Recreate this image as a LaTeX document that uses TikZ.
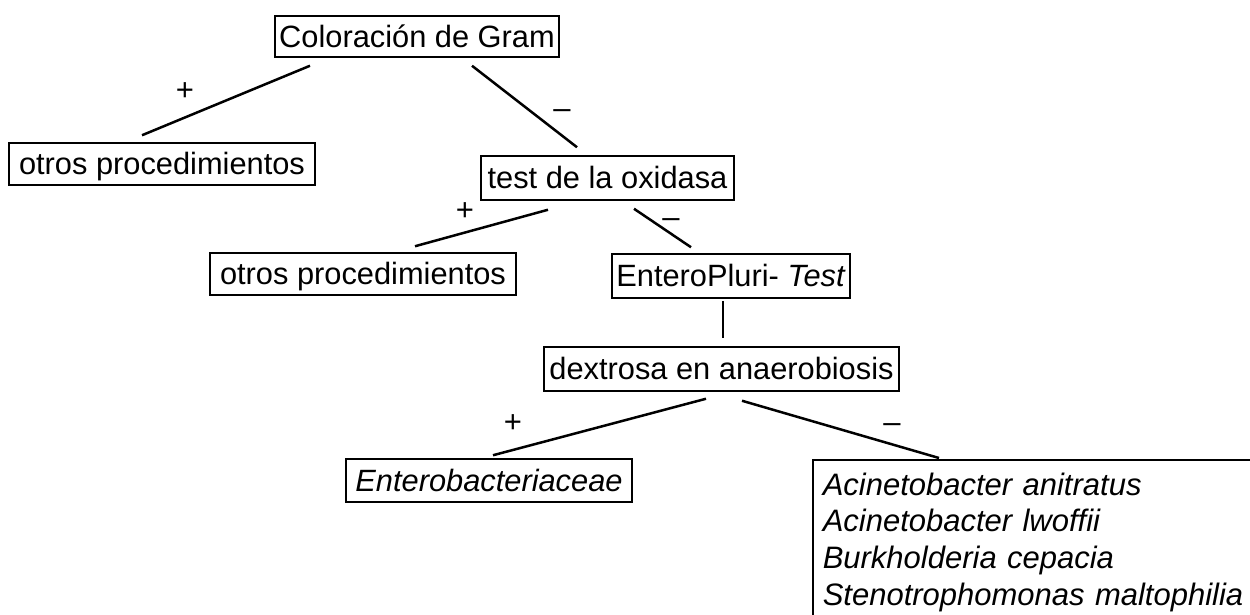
\documentclass[tikz,border=0pt]{standalone}
\usepackage{fontspec}
\setmainfont{Liberation Sans}
\begin{document}
\begin{tikzpicture}[x=1pt,y=-1pt,
  box/.style={draw=black, line width=1.5pt, inner xsep=0pt, inner ysep=0pt,
    minimum height=42pt, text height=26pt, text depth=4.2pt,
    font=\fontsize{30.8}{36}\selectfont},
  bigbox/.style={draw=black, line width=1.5pt, anchor=north west, align=left,
    inner xsep=10pt, inner ysep=13pt, text depth=190pt, text width=500pt,
    font=\fontsize{31}{36.7}\selectfont\itshape},
  conn/.style={line width=2.5pt},
  sign/.style={inner sep=0pt, font=\fontsize{31}{36}\selectfont}]
\useasboundingbox (0,0) rectangle (1250,615);
\clip (0,0) rectangle (1250,615);

\node[box, minimum width=284pt, minimum height=41pt] (gram) at (417,36.5) {Coloración de Gram};
\node[box, minimum width=306pt] (otrosA) at (162,164) {otros procedimientos};
\node[box, minimum width=253pt, minimum height=44pt] (oxi) at (607.5,178) {test de la oxidasa};
\node[box, minimum width=306pt] (otrosB) at (363,274) {otros procedimientos};
\node[box, minimum width=238pt, minimum height=44pt] (ep) at (731,276) {EnteroPluri- \textit{Test}};
\node[box, minimum width=355pt, minimum height=44pt] (dex) at (721.5,369) {dextrosa en anaerobiosis};
\node[box, minimum width=286pt, minimum height=43pt] (entb) at (489,480.5) {\textit{Enterobacteriaceae}};
\node[bigbox] (acin) at (812,459) {Acinetobacter anitratus\\Acinetobacter lwoffii\\Burkholderia cepacia\\Stenotrophomonas maltophilia};

\draw[conn] ([shift={(-107,8)}]gram.south) -- ([shift={(-20,-7)}]otrosA.north);
\draw[conn] ([shift={(55,8)}]gram.south) -- ([shift={(-30.5,-8)}]oxi.north);
\draw[conn] ([shift={(-59.5,9)}]oxi.south) -- ([shift={(52,-6)}]otrosB.north);
\draw[conn] ([shift={(26.5,8)}]oxi.south) -- ([shift={(-40,-6)}]ep.north);
\draw[conn] ([shift={(-8,2)}]ep.south) -- ([shift={(1.5,-8)}]dex.north);
\draw[conn] ([shift={(-15.5,7)}]dex.south) -- ([shift={(4,-3)}]entb.north);
\draw[conn] ([shift={(20.5,9)}]dex.south) -- ([shift={(127,-1)}]acin.north west);

\node[sign] (s1) at (185,92) {+};
\node[sign] (s2) at (562,114) {–};
\node[sign] (s3) at (465,212) {+};
\node[sign] (s4) at (671,223) {–};
\node[sign] (s5) at (513,424) {+};
\node[sign] (s6) at (892,428) {–};
\end{tikzpicture}
\end{document}
